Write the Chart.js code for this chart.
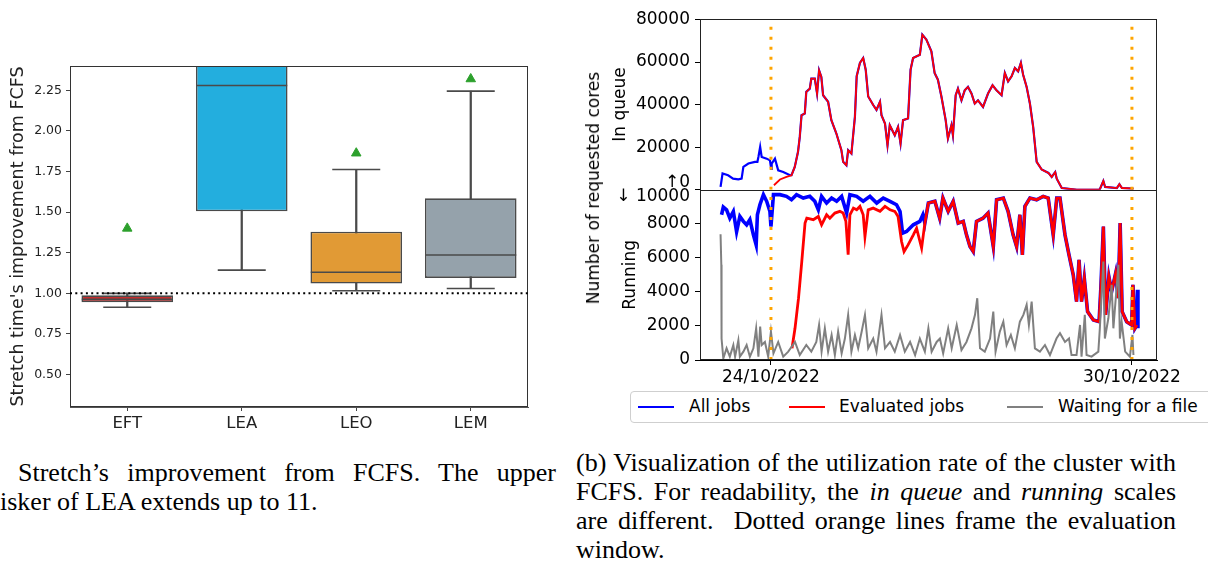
<!DOCTYPE html>
<html><head><meta charset="utf-8">
<script src="https://cdn.jsdelivr.net/npm/chart.js@4.4.1/dist/chart.umd.min.js"></script>
<style>
html,body{margin:0;padding:0;background:#fff;}
body{width:1208px;height:566px;overflow:hidden;position:relative;}
.abs{position:absolute;}
.cap{font-family:"Liberation Serif","Times New Roman",serif;font-size:26px;line-height:29px;color:#000;white-space:nowrap;}
.just{text-align:justify;text-align-last:justify;}
#legend{left:630px;top:391px;width:620px;height:30px;border:1px solid #cfcfcf;border-radius:4px;background:#fff;}
.sw{position:absolute;top:14px;width:36px;height:2px;}
.lt{position:absolute;top:4px;font-family:"DejaVu Sans";font-size:17px;line-height:20px;color:#000;white-space:nowrap;}
#ytitle2{left:593px;top:188px;font-family:"DejaVu Sans";font-size:17px;color:#000;white-space:nowrap;transform:translate(-50%,-50%) rotate(-90deg);}
</style>
</head><body>
<div class="abs" style="left:0;top:0;width:560px;height:440px;"><canvas id="box" width="560" height="440"></canvas></div>
<div class="abs" style="left:570px;top:0;width:638px;height:390px;"><canvas id="ts" width="638" height="390"></canvas></div>
<div id="ytitle2" class="abs">Number of requested cores</div>
<div id="legend" class="abs">
  <span class="sw" style="left:7px;background:#0000ff"></span><span class="lt" style="left:58px">All jobs</span>
  <span class="sw" style="left:158px;background:#ff0000"></span><span class="lt" style="left:208px">Evaluated jobs</span>
  <span class="sw" style="left:376px;background:#808080"></span><span class="lt" style="left:427px">Waiting for a file</span>
</div>
<div class="abs cap just" style="left:18px;top:458px;width:538px;">Stretch’s improvement from FCFS. The upper</div>
<div class="abs cap" style="left:0px;top:487px;">isker of LEA extends up to 11.</div>
<div class="abs cap just" style="left:576px;top:448px;width:600px;">(b) Visualization of the utilization rate of the cluster with</div>
<div class="abs cap just" style="left:576px;top:477px;width:600px;">FCFS. For readability, the <i>in queue</i> and <i>running</i> scales</div>
<div class="abs cap just" style="left:576px;top:506px;width:600px;">are different.&nbsp; Dotted orange lines frame the evaluation</div>
<div class="abs cap" style="left:576px;top:535px;">window.</div>
<script>
// ---------- (a) box plot data ----------
const categories = ['EFT', 'LEA', 'LEO', 'LEM'];
const boxQ1 = [0.945, 1.505, 1.06, 1.095];
const boxQ3 = [0.988, 3.0, 1.38, 1.585];
const boxMedian = [0.963, 2.28, 1.13, 1.236];
const whiskerLow = [0.914, 1.143, 1.016, 1.03];
const whiskerHigh = [1.0, 11, 1.763, 2.245];
const boxMean = [1.40, null, 1.863, 2.32];   // LEA mean is above the visible range
const referenceLevel = 1.0;
const boxYTicks = [0.5, 0.75, 1.0, 1.25, 1.5, 1.75, 2.0, 2.25];

// ---------- (b) utilization data: [hours from 24/10/2022 00:00, cores] ----------
const queueAllEarly = [[-20.1,1300],[-19.3,7600],[-17.1,6800],[-15.1,5200],[-13.0,4900],[-11.7,5200],[-11.0,10700],[-9.0,12300],[-6.4,13100],[-5.4,13100],[-5.0,15400],[-4.3,20100],[-3.7,15400],[-1.7,14600],[-0.4,13800],[0.1,9800],[0.3,12300],[1.6,14600],[2.9,9100],[4.9,8300],[7.6,6800]];
const queueEvaluated = [[1.2,2100],[3.6,4800],[6.2,6000],[8.2,6800],[9.5,10700],[10.8,17800],[11.5,24800],[12.2,35000],[13.5,35800],[14.1,46000],[15.5,47500],[16.1,52200],[17.5,52200],[18.4,45200],[19.2,56100],[20.1,53000],[20.8,44400],[22.8,41300],[24.1,32700],[26.1,26400],[28.1,18600],[28.8,13100],[30.1,11500],[30.8,18600],[32.1,17000],[33.5,34300],[34.2,53300],[35.5,59600],[36.8,61900],[37.8,56400],[38.8,43800],[40.8,39800],[42.1,37500],[43.5,41300],[44.1,35000],[45.5,31100],[46.5,20900],[47.4,30300],[49.4,25600],[50.7,29500],[51.7,21700],[52.7,32700],[54.7,33500],[55.7,56400],[56.7,61900],[59.4,63400],[60.4,72800],[62.0,70500],[64.0,65000],[65.3,54800],[66.6,51700],[68.0,43800],[69.7,32700],[70.6,24100],[72.0,30300],[72.6,25600],[73.7,44400],[74.6,47500],[76.0,42000],[77.3,46700],[78.6,48300],[80.0,45200],[81.3,40500],[82.6,42000],[84.6,38900],[86.6,45200],[88.4,49100],[90.0,46700],[92.0,44400],[93.3,54800],[94.6,50900],[96.0,53300],[97.3,57200],[98.6,55600],[99.7,59600],[100.6,54000],[102.0,48300],[103.3,40500],[104.6,29500],[106.0,13100],[108.0,9500],[110.7,7900],[112.0,6000],[113.4,8300],[114.0,5200],[116.0,800],[118.0,500],[122.0,0],[131.0,0],[131.3,500],[132.6,4100],[133.3,1300],[138.0,800],[139.0,2600],[140.0,800],[144.6,500]];
const runningAllEarly = [[-19.7,8530],[-19.0,8980],[-17.7,8820],[-16.4,8330],[-15.0,8720],[-13.7,7530],[-12.4,8430],[-11.0,8140],[-9.7,7940],[-8.4,8240],[-7.0,7350],[-5.9,6760],[-5.4,8530],[-4.4,9120],[-3.0,9710],[-1.7,9320],[-0.4,8720],[0.0,7840],[1.0,9710],[3.6,9710],[6.2,9610],[8.2,9410],[10.2,9710],[12.9,9510],[15.5,9610],[17.5,9320],[18.9,8820],[20.2,9610],[22.2,9220],[24.2,9510],[26.2,9320],[28.2,9610],[30.2,8630],[31.5,9710],[34.2,9610],[36.8,9320],[39.5,9610],[42.2,9220],[44.8,9510],[47.5,9320],[50.1,9120],[51.5,8720],[52.5,7450],[54.1,7550],[56.8,7940],[59.4,8140],[60.6,8530]];
const runningEvaluated = [[8.4,686],[9.6,1860],[11.0,3630],[12.3,5780],[13.6,8040],[14.3,8330],[16.9,8240],[18.9,8430],[20.2,7940],[22.2,8530],[23.5,8330],[25.5,8630],[27.5,8730],[28.8,8630],[29.9,8140],[30.8,6180],[31.5,8530],[32.9,8920],[34.2,8820],[35.5,9020],[36.8,8530],[37.5,7250],[38.8,8820],[40.8,8920],[43.5,8730],[45.5,9020],[47.5,8820],[49.4,8730],[50.7,8430],[52.1,6960],[53.1,6370],[54.7,6760],[56.8,7350],[58.1,7740],[60.1,6570],[61.4,8040],[62.8,9220],[65.4,9320],[67.3,8330],[68.6,9510],[70.7,8730],[72.7,9320],[74.7,8040],[76.7,8140],[78.0,7350],[79.4,6660],[80.7,6370],[82.0,8140],[84.6,8330],[86.6,8630],[88.7,6660],[90.0,9410],[92.7,9510],[94.6,8730],[96.6,7350],[98.0,6660],[99.3,8530],[100.3,6170],[101.3,9020],[103.3,9510],[106.0,9410],[108.6,9610],[110.6,9510],[112.6,7350],[114.0,9510],[115.3,9510],[117.3,7350],[118.9,6170],[120.6,4990],[121.9,3430],[122.9,5880],[123.9,3430],[125.0,4800],[126.3,2840],[128.6,2350],[130.9,2250],[131.6,4220],[132.6,7840],[133.5,2650],[134.8,4900],[135.9,4020],[137.5,5100],[138.5,3630],[139.3,8040],[140.1,2840],[141.9,2250],[143.9,2060],[144.4,4410],[145.2,1860],[146.0,2060]];
const runningAllLate = [[146.2,4120],[146.4,1860]];
const waitingForFile = [[-20.1,7390],[-19.8,5590],[-19.7,1260],[-19.0,90],[-17.7,686],[-16.4,196],[-15.0,880],[-14.3,196],[-13.0,1160],[-12.4,196],[-11.0,490],[-9.7,880],[-8.4,196],[-7.0,686],[-5.9,1860],[-5.0,196],[-4.3,1960],[-3.7,880],[-2.4,1060],[-1.1,196],[0.0,1670],[1.0,390],[2.9,1060],[4.9,196],[6.9,490],[9.6,1060],[11.5,290],[14.1,880],[16.1,490],[18.1,1060],[19.2,2060],[20.2,490],[21.5,1860],[22.8,490],[24.2,1470],[25.5,290],[26.8,1670],[28.2,390],[29.5,1260],[30.8,2650],[32.1,490],[33.5,1470],[34.8,686],[36.2,1670],[37.5,2650],[38.8,686],[40.8,1260],[42.1,490],[44.1,2650],[45.5,686],[47.5,1060],[49.4,490],[51.5,1470],[53.4,490],[55.5,1060],[57.5,290],[59.4,1260],[61.4,490],[62.8,1860],[64.1,490],[66.1,1060],[67.4,1260],[68.7,390],[70.7,1860],[72.1,686],[74.1,2060],[76.0,590],[78.0,1060],[80.0,1860],[81.4,2650],[82.3,3630],[83.4,686],[85.3,490],[87.4,1260],[88.7,2840],[89.6,490],[91.3,1670],[92.7,2250],[94.0,880],[95.7,1470],[97.3,686],[99.3,2250],[100.7,2650],[102.0,3240],[102.9,2060],[104.0,3430],[105.3,686],[107.3,490],[109.3,880],[111.3,290],[113.9,1260],[115.3,1570],[117.3,1060],[118.9,1260],[119.9,290],[121.9,290],[123.3,2060],[123.9,196],[125.2,2650],[125.9,290],[127.9,196],[130.6,490],[131.2,1860],[132.6,5780],[133.2,1260],[134.6,2450],[135.9,4410],[136.6,1860],[138.6,5590],[139.2,1260],[139.9,2250],[141.3,490],[143.2,196],[144.2,1470],[144.6,290]];
const evaluationWindow = [0, 144];
const dateTickHours = [0, 144];
const dateTickLabels = ['24/10/2022', '30/10/2022'];
const queueTicks = [0, 20000, 40000, 60000, 80000];
const runningTicks = [0, 2000, 4000, 6000, 8000, 10000];

// ---------- shared helpers ----------
Chart.defaults.font.family = 'DejaVu Sans';
const toXY = arr => arr.map(p => ({x: p[0], y: p[1]}));
const framePlugin = {
  id: 'frame',
  afterDatasetsDraw(chart, args, opts) {
    const {ctx, chartArea: a} = chart;
    ctx.save();
    ctx.strokeStyle = opts.color || '#000';
    ctx.lineWidth = 1;
    ctx.strokeRect(Math.round(a.left) + 0.5, Math.round(a.top) + 0.5, Math.round(a.width) - 1, Math.round(a.height) - 1);
    if (opts.split) {
      const y = Math.round(chart.scales[opts.split].bottom) + 0.5;
      ctx.beginPath(); ctx.moveTo(a.left, y); ctx.lineTo(a.right, y); ctx.stroke();
    }
    if (opts.refLevel !== undefined) {
      const y = chart.scales.y.getPixelForValue(opts.refLevel);
      ctx.strokeStyle = '#000'; ctx.lineWidth = 2; ctx.setLineDash([2, 3.3]);
      ctx.beginPath(); ctx.moveTo(a.left, y); ctx.lineTo(a.right, y); ctx.stroke();
    }
    ctx.restore();
  }
};

// ---------- (a) box plot ----------
const boxFill = ['#c42d2d', '#23aede', '#e19a35', '#95a2ab'];
const edge = '#4a4a4a';
const capDs = (vals) => ({type: 'line', data: vals, showLine: false, pointStyle: 'line', pointRadius: 24,
  pointBorderWidth: 1.6, pointBorderColor: edge, clip: 0, order: 1});
new Chart(document.getElementById('box'), {
  type: 'bar',
  data: {
    labels: categories,
    datasets: [
      {type: 'bar', data: categories.map((c, i) => [boxQ1[i], boxQ3[i]]), backgroundColor: boxFill,
        borderColor: edge, borderWidth: 1.6, borderSkipped: false, grouped: false,
        barPercentage: 0.8, categoryPercentage: 1, clip: 0, order: 2},
      {type: 'bar', data: categories.map((c, i) => [whiskerLow[i], whiskerHigh[i]]), backgroundColor: edge,
        borderWidth: 0, barThickness: 1.6, grouped: false, clip: 0, order: 3},
      {type: 'line', data: boxMedian, showLine: false, pointStyle: 'line', pointRadius: 45.5,
        pointBorderWidth: 1.6, pointBorderColor: edge, clip: 0, order: 1},
      capDs(whiskerLow),
      capDs(whiskerHigh),
      {type: 'line', data: boxMean, showLine: false, pointStyle: 'triangle', pointRadius: 5.5,
        pointBackgroundColor: '#2ca02c', pointBorderColor: '#2ca02c', pointBorderWidth: 1, clip: 0, order: 0}
    ]
  },
  options: {
    responsive: false, animation: false, events: [],
    layout: {autoPadding: false, padding: {left: 0, top: 66, right: 32, bottom: 0}},
    plugins: {legend: {display: false}, tooltip: {enabled: false}, frame: {color: '#333', refLevel: referenceLevel}},
    scales: {
      x: {
        type: 'category', offset: true,
        grid: {drawOnChartArea: false, offset: false, tickLength: 4, color: '#444'},
        border: {color: '#555'},
        ticks: {font: {size: 16.5}, color: '#222', padding: 3, maxRotation: 0},
        afterFit: s => { s.height = 33; }
      },
      y: {
        min: 0.3, max: 2.4,
        afterBuildTicks: s => { s.ticks = boxYTicks.map(v => ({value: v})); },
        ticks: {font: {size: 12.5}, color: '#222', padding: 4, callback: v => Number(v).toFixed(2)},
        grid: {drawOnChartArea: false, tickLength: 4, color: '#444'},
        border: {color: '#555'},
        title: {display: true, text: "Stretch time's improvement from FCFS", font: {size: 17.5}, color: '#222',
          padding: {top: 7.5, bottom: 0}},
        afterFit: s => { s.width = 70; }
      }
    }
  },
  plugins: [framePlugin]
});

// ---------- (b) utilization time series ----------
const queueAll = queueAllEarly.concat(queueEvaluated.filter(p => p[0] >= 8.2));
const runningAll = runningAllEarly.concat(runningEvaluated.filter(p => p[0] >= 61.4), runningAllLate);
const windowLine = (top) => [
  {x: evaluationWindow[0], y: 0}, {x: evaluationWindow[0], y: top},
  {x: (evaluationWindow[0] + evaluationWindow[1]) / 2, y: null},
  {x: evaluationWindow[1], y: 0}, {x: evaluationWindow[1], y: top}
];
const lineDs = (data, color, axis, order, width) => ({
  data: toXY(data), borderColor: color, backgroundColor: color, borderWidth: width, pointRadius: 0,
  tension: 0, yAxisID: axis, order: order
});
const yFont = {size: 17, lineHeight: 0.85};
new Chart(document.getElementById('ts'), {
  type: 'line',
  data: {
    datasets: [
      lineDs(queueAll, '#0000ff', 'yq', 3, 2.2),
      lineDs(queueEvaluated, '#ff0000', 'yq', 2, 1.8),
      lineDs(runningAll, '#0000ff', 'yr', 3, 3.6),
      lineDs(runningEvaluated, '#ff0000', 'yr', 2, 2.8),
      lineDs(waitingForFile, '#808080', 'yr', 1, 2),
      {data: windowLine(queueTicks[queueTicks.length - 1]), borderColor: '#ffa500', borderWidth: 3, borderDash: [3, 7],
        pointRadius: 0, spanGaps: false, yAxisID: 'yq', order: 0},
      {data: windowLine(runningTicks[runningTicks.length - 1]), borderColor: '#ffa500', borderWidth: 3, borderDash: [3, 7],
        pointRadius: 0, spanGaps: false, yAxisID: 'yr', order: 0}
    ]
  },
  options: {
    responsive: false, animation: false, events: [],
    layout: {autoPadding: false, padding: {left: 0, top: 19, right: 51, bottom: 0}},
    plugins: {legend: {display: false}, tooltip: {enabled: false}, frame: {color: '#222', split: 'yq'}},
    scales: {
      x: {
        type: 'linear', min: -28.3, max: 154,
        afterBuildTicks: s => { s.ticks = dateTickHours.map(v => ({value: v})); },
        ticks: {font: {size: 17}, color: '#000', padding: 2, maxRotation: 0, autoSkip: false,
          callback: v => dateTickLabels[dateTickHours.indexOf(v)]},
        grid: {drawOnChartArea: false, tickLength: 5, color: '#000'},
        border: {color: '#000'},
        afterFit: s => { s.height = 30; }
      },
      yr: {
        type: 'linear', position: 'left', stack: 'panels', stackWeight: 1, min: 0, max: 10000,
        afterBuildTicks: s => { s.ticks = runningTicks.map(v => ({value: v})); },
        ticks: {font: yFont, color: '#000', padding: 5, autoSkip: false,
          callback: v => v === 10000 ? ['', '↓ 10000'] : String(v)},
        grid: {drawOnChartArea: false, tickLength: 5, color: '#000'},
        border: {color: '#000'},
        title: {display: true, text: 'Running', font: {size: 17}, color: '#000', padding: {top: 50, bottom: 0}},
        afterFit: s => { s.width = 130; }
      },
      yq: {
        type: 'linear', position: 'left', stack: 'panels', stackWeight: 1, min: 0, max: 80000,
        afterBuildTicks: s => { s.ticks = queueTicks.map(v => ({value: v})); },
        ticks: {font: yFont, color: '#000', padding: 5, autoSkip: false,
          callback: v => v === 0 ? ['↑0', ''] : String(v)},
        grid: {drawOnChartArea: false, tickLength: 5, color: '#000'},
        border: {color: '#000'},
        title: {display: true, text: 'In queue', font: {size: 17}, color: '#000', padding: {top: 40, bottom: 0}},
        afterFit: s => { s.width = 130; }
      }
    }
  },
  plugins: [framePlugin]
});
</script>
</body></html>
